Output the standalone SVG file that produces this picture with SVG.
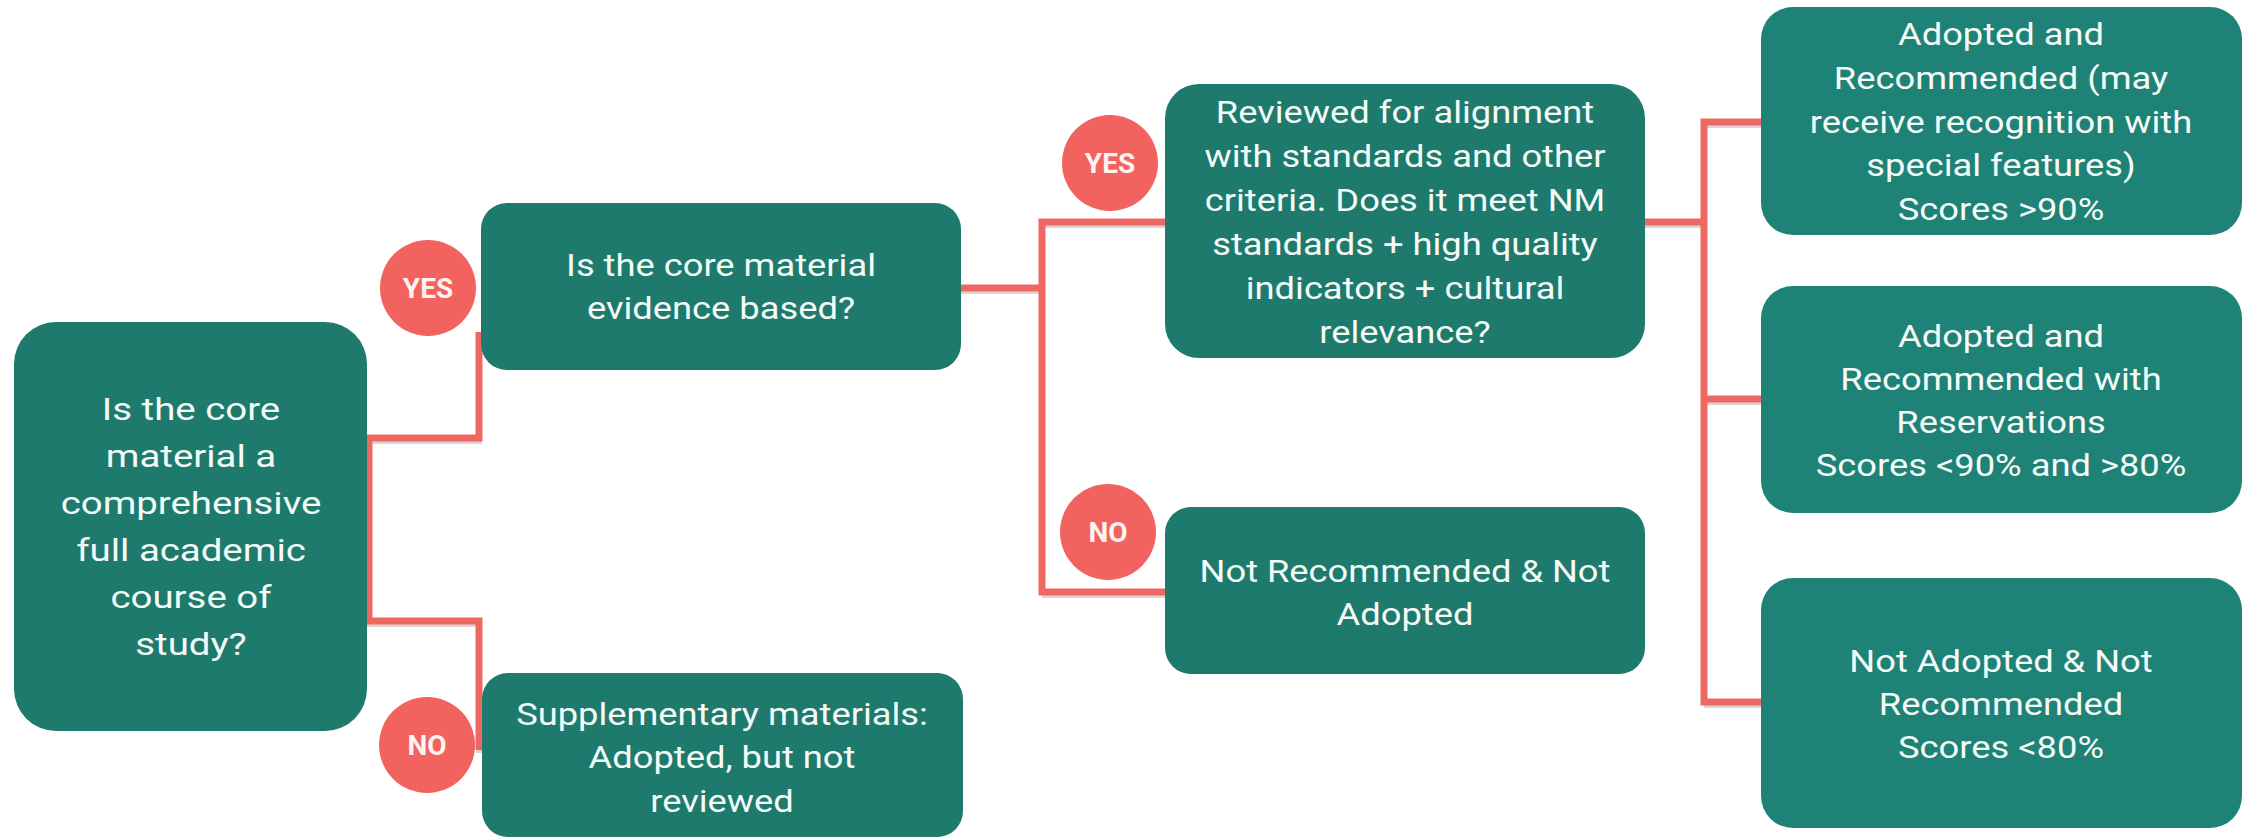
<svg xmlns="http://www.w3.org/2000/svg" width="2254" height="839" viewBox="0 0 2254 839">
<style>
.node{fill:#1d7a6d}
.node2{fill:#1f8277}
.lbl{font-family:Roboto,"Liberation Sans",sans-serif;font-size:30.5px;fill:#f4fbf7;text-anchor:middle}
.root{font-size:32px}
.badge{fill:#f2625e}
.btxt{font-family:Roboto,"Liberation Sans",sans-serif;font-weight:bold;font-size:28px;fill:#fdf3f0;text-anchor:middle}
.wire{fill:none;stroke:#ee6861;stroke-width:7;stroke-linejoin:miter}
.shadow{fill:none;stroke:#6d5560;stroke-width:6;opacity:0.25}
</style>
<rect width="2254" height="839" fill="#ffffff"/>
<g id="connectors">
<g transform="translate(0 3)">
<path class="shadow" d="M367 438 H479 V332 M367 438 V621 H479 V750"/>
<path class="shadow" d="M961 288 H1042 M1042 222 V592 M1042 222 H1166 M1042 592 H1166"/>
<path class="shadow" d="M1645 222 H1704 M1704 122 V702 M1704 122 H1763 M1704 399 H1763 M1704 702 H1763"/>
</g>
<path class="wire" d="M367 438 H479 V332"/>
<path class="wire" d="M369 438 V621 H479 V750"/>
<path class="wire" d="M961 288 H1042"/>
<path class="wire" d="M1166 222 H1042 V592 H1166"/>
<path class="wire" d="M1645 222 H1704"/>
<path class="wire" d="M1763 122 H1704 V702 H1763"/>
<path class="wire" d="M1704 399 H1763"/>
</g>
<g id="root">
<rect class="node" x="14" y="322" width="353" height="409" rx="42"/>
<text class="lbl root" transform="translate(191 0) scale(1.2 1)"><tspan x="0" y="420">Is the core</tspan><tspan x="0" y="467">material a</tspan><tspan x="0" y="514">comprehensive</tspan><tspan x="0" y="561">full academic</tspan><tspan x="0" y="608">course of</tspan><tspan x="0" y="655">study?</tspan></text>
</g>
<g id="yes1">
<circle class="badge" cx="428" cy="288" r="48"/>
<text class="btxt" x="428" y="298">YES</text>
</g>
<g id="no1">
<circle class="badge" cx="427" cy="745" r="48"/>
<text class="btxt" x="427" y="755">NO</text>
</g>
<g id="evidence">
<rect class="node" x="481" y="203" width="480" height="167" rx="26"/>
<text class="lbl" transform="translate(721 0) scale(1.19 1)"><tspan x="0" y="276">Is the core material</tspan><tspan x="0" y="319">evidence based?</tspan></text>
</g>
<g id="supplementary">
<rect class="node" x="482" y="673" width="481" height="164" rx="26"/>
<text class="lbl" transform="translate(722 0) scale(1.19 1)"><tspan x="0" y="725">Supplementary materials:</tspan><tspan x="0" y="768">Adopted, but not</tspan><tspan x="0" y="812">reviewed</tspan></text>
</g>
<g id="yes2">
<circle class="badge" cx="1110" cy="163" r="48"/>
<text class="btxt" x="1110" y="173">YES</text>
</g>
<g id="no2">
<circle class="badge" cx="1108" cy="532" r="48"/>
<text class="btxt" x="1108" y="542">NO</text>
</g>
<g id="reviewed">
<rect class="node" x="1165" y="84" width="480" height="274" rx="34"/>
<text class="lbl" transform="translate(1405 0) scale(1.19 1)"><tspan x="0" y="123">Reviewed for alignment</tspan><tspan x="0" y="167">with standards and other</tspan><tspan x="0" y="211">criteria. Does it meet NM</tspan><tspan x="0" y="255">standards + high quality</tspan><tspan x="0" y="299">indicators + cultural</tspan><tspan x="0" y="343">relevance?</tspan></text>
</g>
<g id="not-recommended">
<rect class="node" x="1165" y="507" width="480" height="167" rx="26"/>
<text class="lbl" transform="translate(1405 0) scale(1.19 1)"><tspan x="0" y="582">Not Recommended &amp; Not</tspan><tspan x="0" y="625">Adopted</tspan></text>
</g>
<g id="adopted-recommended">
<rect class="node2" x="1761" y="7" width="481" height="228" rx="32"/>
<text class="lbl" transform="translate(2001 0) scale(1.19 1)"><tspan x="0" y="45">Adopted and</tspan><tspan x="0" y="89">Recommended (may</tspan><tspan x="0" y="133">receive recognition with</tspan><tspan x="0" y="176">special features)</tspan><tspan x="0" y="220">Scores &gt;90%</tspan></text>
</g>
<g id="adopted-reservations">
<rect class="node2" x="1761" y="286" width="481" height="227" rx="32"/>
<text class="lbl" transform="translate(2001 0) scale(1.19 1)"><tspan x="0" y="347">Adopted and</tspan><tspan x="0" y="390">Recommended with</tspan><tspan x="0" y="433">Reservations</tspan><tspan x="0" y="476">Scores &lt;90% and &gt;80%</tspan></text>
</g>
<g id="not-adopted">
<rect class="node2" x="1761" y="578" width="481" height="250" rx="32"/>
<text class="lbl" transform="translate(2001 0) scale(1.19 1)"><tspan x="0" y="672">Not Adopted &amp; Not</tspan><tspan x="0" y="715">Recommended</tspan><tspan x="0" y="758">Scores &lt;80%</tspan></text>
</g>
</svg>
